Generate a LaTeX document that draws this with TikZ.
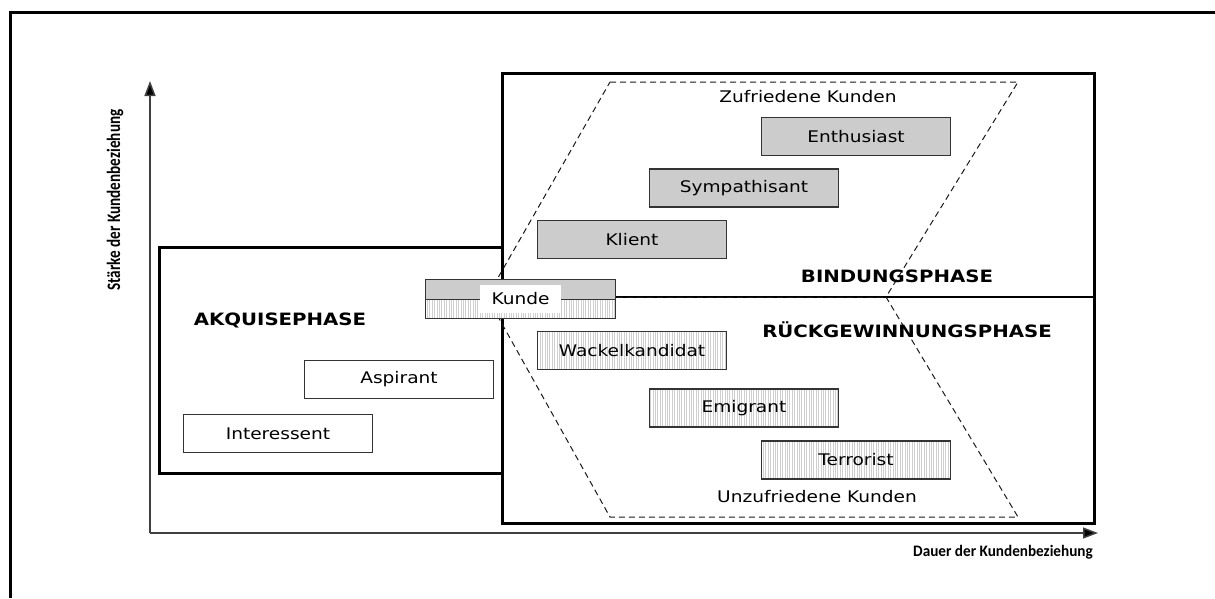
\documentclass[tikz,border=0pt]{standalone}
\usepackage{fontspec}
\setmainfont{DejaVu Sans}[FakeStretch=1.16]
\newfontfamily\axisfont{Carlito}[FakeStretch=0.95]
\newfontfamily\yaxisfont{Carlito}[FakeStretch=0.8]
\usetikzlibrary{arrows.meta,patterns.meta}
\begin{document}
\begin{tikzpicture}[x=1pt,y=-1pt,
  frame/.style={line width=3pt,black},
  phasebox/.style={draw=black,line width=2.6pt,anchor=north west,inner sep=0pt},
  axisline/.style={draw=black!75,line width=1.5pt,-{Triangle[length=15pt,width=11pt,fill=black]}},
  dashline/.style={draw=black!90,line width=1pt,dash pattern=on 6pt off 4pt},
  cbox/.style={draw=black!80,line width=1.2pt,minimum width=189pt,minimum height=38pt,inner sep=0pt,
     font=\fontsize{16}{19}\selectfont},
  filled/.style={cbox,fill=gray!40},
  plain/.style={cbox,fill=white},
  hatched/.style={cbox,preaction={fill=white},pattern={Lines[angle=90,distance=2.4pt,line width=0.5pt]},pattern color=gray!38},
  lbl/.style={inner sep=0pt,font=\fontsize{16}{19}\selectfont},
  phaselbl/.style={inner sep=0pt,font=\bfseries\fontsize{17}{20}\selectfont},
  axislbl/.style={inner sep=0pt,font=\axisfont\bfseries\fontsize{16}{19}\selectfont}
]
\useasboundingbox (0,0) rectangle (1215,598);
% outer frame
\draw[frame] (10,598) -- (10,12) -- (1215,12);

% axes
\coordinate (O) at (150,533);
\coordinate (ytip) at (150,81);
\coordinate (xtip) at (1098,533);
\draw[axisline] (O) -- (ytip);
\draw[axisline] (O) -- (xtip);
\node[inner sep=0pt,rotate=90,font=\yaxisfont\bfseries\fontsize{19}{22}\selectfont] (ylab) at (115,200) {Stärke der Kundenbeziehung};
\node[axislbl,anchor=east] (xlab) at (1093,552) {Dauer der Kundenbeziehung};

% phase boxes
\node[phasebox,minimum width=343pt,minimum height=226pt] (akq) at (158,246) {};
\node[phasebox,line width=3pt,minimum width=592pt,minimum height=450pt] (bind) at (501,72) {};
\draw[line width=2.6pt] (501,297) -- (1093,297);

% dashed chevron
\coordinate (c1) at (610,82);
\coordinate (c2) at (1018,82);
\coordinate (c3) at (886,297);
\coordinate (c4) at (1018,517);
\coordinate (c5) at (610,517);
\coordinate (c6) at (487,297);
\draw[dashline] (c1) -- (c2) -- (c3) -- (c4) -- (c5) -- (c6) -- cycle;
\draw[dashline] (c6) -- (c3);

% labels
\node[lbl] (zuf) at (808,97) {Zufriedene Kunden};
\node[lbl] (unzuf) at (817,497) {Unzufriedene Kunden};
\node[phaselbl] (bl) at (897,276) {BINDUNGSPHASE};
\node[phaselbl] (rl) at (907,330) {RÜCKGEWINNUNGSPHASE};
\node[phaselbl] (al) at (280,320) {AKQUISEPHASE};

% customer boxes
\node[filled] (enth) at (856,136.5) {Enthusiast};
\node[filled] (symp) at (744,188) {Sympathisant};
\node[filled] (klient) at (632,239.5) {Klient};
\node[hatched] (wack) at (632,350.5) {Wackelkandidat};
\node[hatched] (emig) at (744,408) {Emigrant};
\node[hatched] (terr) at (856,460) {Terrorist};
\node[plain] (asp) at (399,379.5) {Aspirant};
\node[plain] (inter) at (278,433.5) {Interessent};

% Kunde
\node[cbox,fill=gray!40,minimum width=190pt,minimum height=20pt,anchor=north west] (kundeA) at (425,279) {};
\node[hatched,minimum width=190pt,minimum height=19pt,anchor=north west] (kundeB) at (425,299) {};
\node[fill=white,inner sep=0pt,minimum width=81pt,minimum height=28pt,font=\fontsize{16}{19}\selectfont] (kunde) at (520.5,299) {Kunde};
\end{tikzpicture}
\end{document}
